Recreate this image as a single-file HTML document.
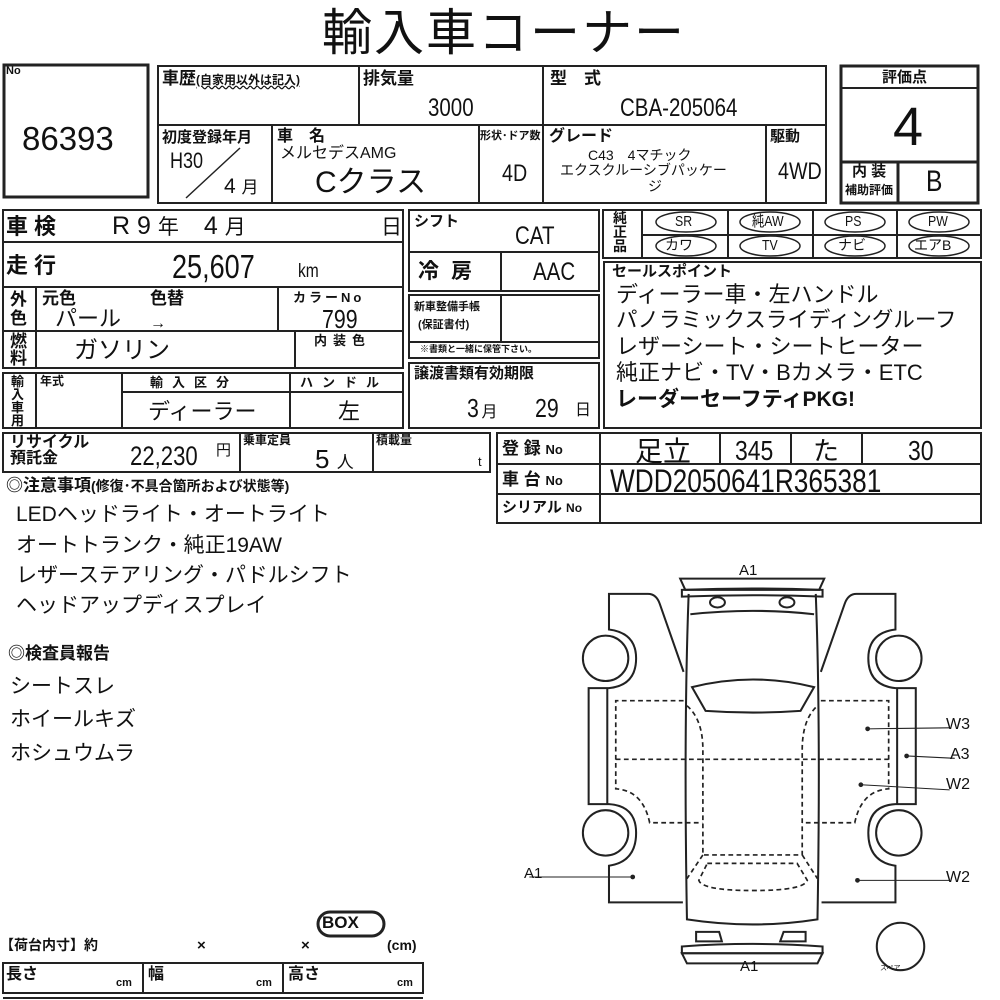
<!DOCTYPE html>
<html><head><meta charset="utf-8">
<style>
html,body{margin:0;padding:0;background:#fff;}
body{width:1000px;height:1000px;position:relative;overflow:hidden;font-family:"Liberation Sans","Noto Sans CJK JP",sans-serif;color:#111;}
.t{position:absolute;white-space:nowrap;line-height:1;}
.b{font-weight:bold;}
.n{display:inline-block;transform-origin:left top;transform:scaleX(0.82);}
svg{position:absolute;left:0;top:0;}
</style></head><body>
<svg width="1000" height="1000" viewBox="0 0 1000 1000" fill="none" stroke="#222" stroke-width="2">
<rect x="4" y="65" width="144" height="132" stroke-width="3"/>
<rect x="158" y="66" width="668" height="137"/>
<line x1="158" y1="125" x2="826" y2="125"/>
<line x1="359" y1="66" x2="359" y2="125"/>
<line x1="543" y1="66" x2="543" y2="203"/>
<line x1="272" y1="125" x2="272" y2="203"/>
<line x1="479" y1="125" x2="479" y2="203"/>
<line x1="766" y1="125" x2="766" y2="203"/>
<line x1="186" y1="198" x2="240" y2="148" stroke-width="1.5"/>
<rect x="841" y="66" width="137" height="137" stroke-width="3"/>
<line x1="841" y1="88" x2="978" y2="88"/>
<line x1="841" y1="162" x2="978" y2="162" stroke-width="3"/>
<line x1="898" y1="162" x2="898" y2="203" stroke-width="3"/>
<rect x="3" y="210" width="400" height="158"/>
<line x1="3" y1="242" x2="403" y2="242"/>
<line x1="3" y1="287" x2="403" y2="287"/>
<line x1="3" y1="331" x2="403" y2="331"/>
<line x1="36" y1="287" x2="36" y2="368"/>
<line x1="278" y1="287" x2="278" y2="331"/>
<line x1="295" y1="331" x2="295" y2="368"/>
<rect x="3" y="373" width="400" height="55"/>
<line x1="36" y1="373" x2="36" y2="428"/>
<line x1="122" y1="373" x2="122" y2="428"/>
<line x1="122" y1="392" x2="403" y2="392"/>
<line x1="290" y1="373" x2="290" y2="428"/>
<rect x="409" y="210" width="190" height="81"/>
<line x1="409" y1="252" x2="599" y2="252"/>
<line x1="501" y1="252" x2="501" y2="291"/>
<rect x="409" y="295" width="190" height="63"/>
<line x1="409" y1="342" x2="599" y2="342"/>
<line x1="501" y1="295" x2="501" y2="342"/>
<rect x="409" y="363" width="190" height="65"/>
<rect x="603" y="210" width="378" height="48"/>
<line x1="642" y1="235" x2="981" y2="235"/>
<line x1="642" y1="210" x2="642" y2="258"/>
<line x1="728" y1="210" x2="728" y2="258"/>
<line x1="813" y1="210" x2="813" y2="258"/>
<line x1="897" y1="210" x2="897" y2="258"/>
<g stroke-width="1.5">
<ellipse cx="686" cy="222" rx="30" ry="10"/><ellipse cx="770" cy="222" rx="30" ry="10"/>
<ellipse cx="855" cy="222" rx="30" ry="10"/><ellipse cx="939" cy="222" rx="30" ry="10"/>
<ellipse cx="686" cy="246" rx="30" ry="10"/><ellipse cx="770" cy="246" rx="30" ry="10"/>
<ellipse cx="855" cy="246" rx="30" ry="10"/><ellipse cx="939" cy="246" rx="30" ry="10"/>
</g>
<rect x="604" y="262" width="377" height="166"/>
<rect x="3" y="433" width="487" height="39"/>
<line x1="240" y1="433" x2="240" y2="472"/>
<line x1="373" y1="433" x2="373" y2="472"/>
<rect x="497" y="433" width="484" height="90"/>
<line x1="497" y1="464" x2="981" y2="464"/>
<line x1="497" y1="494" x2="981" y2="494"/>
<line x1="600" y1="433" x2="600" y2="523"/>
<line x1="720" y1="433" x2="720" y2="464"/>
<line x1="791" y1="433" x2="791" y2="464"/>
<line x1="862" y1="433" x2="862" y2="464"/>
<rect x="318" y="912" width="66" height="24" rx="12" stroke-width="3"/>
<rect x="3" y="963" width="420" height="30"/>
<line x1="143" y1="963" x2="143" y2="993"/>
<line x1="283" y1="963" x2="283" y2="993"/>
<line x1="3" y1="998" x2="423" y2="998"/>
<g transform="translate(570,560) scale(0.339)" stroke-width="6">
 <path d="M335,330 L265,130 Q255,100 230,100 L115,100 L115,205 Q195,215 195,290 Q195,370 115,378 L55,378 L55,720 L115,720 Q195,725 195,805 Q195,890 115,902 L115,1010 L333,1010"/>
 <circle cx="105" cy="290" r="67"/><circle cx="105" cy="805" r="67"/>
 <line x1="110" y1="378" x2="110" y2="720"/>
 <g transform="translate(1075,0) scale(-1,1)">
  <path d="M335,330 L265,130 Q255,100 230,100 L115,100 L115,205 Q195,215 195,290 Q195,370 115,378 L55,378 L55,720 L115,720 Q195,725 195,805 Q195,890 115,902 L115,1010 L333,1010"/>
  <circle cx="105" cy="290" r="67"/><circle cx="105" cy="805" r="67"/>
  <line x1="110" y1="378" x2="110" y2="720"/>
 </g>
 <path d="M350,100 Q335,500 345,1060 Q540,1090 730,1060 Q740,500 725,100"/>
 <path d="M325,55 L750,55 L735,88 L340,88 Z"/>
 <path d="M330,88 Q540,80 745,88 L745,108 Q540,100 330,108 Z"/>
 <ellipse cx="435" cy="125" rx="22" ry="15"/><ellipse cx="640" cy="125" rx="22" ry="15"/>
 <path d="M355,160 Q540,140 720,160"/>
 <path d="M360,375 Q540,330 720,375 L680,445 Q540,455 400,445 Z"/>
 <path d="M372,1097 L440,1097 L448,1125 L372,1125 Z"/><path d="M620,1125 L630,1097 L695,1097 L695,1125 Z"/>
 <path d="M330,1140 Q540,1125 745,1140 L745,1160 L330,1160 Z"/>
 <path d="M330,1160 L745,1160 L730,1190 L345,1190 Z"/>
 <g stroke-dasharray="14,10" stroke-width="5">
  <path d="M335,415 L135,415 L135,675 Q215,680 235,775 L390,775"/>
  <path d="M740,415 L940,415 L940,675 Q860,680 840,775 L685,775"/>
  <line x1="135" y1="588" x2="940" y2="588"/>
  <path d="M345,430 Q392,470 392,560 L392,870 L685,870 L685,560 Q685,470 730,430"/>
  <path d="M392,870 L345,940 M685,870 L730,940"/>
  <path d="M405,895 L670,895 L700,945 Q690,975 540,975 Q390,975 380,945 Z"/>
 </g>
 <g stroke-width="3">
  <line x1="878" y1="498" x2="1120" y2="495"/>
  <line x1="993" y1="578" x2="1135" y2="585"/>
  <line x1="858" y1="663" x2="1120" y2="678"/>
  <line x1="848" y1="945" x2="1120" y2="945"/>
  <line x1="-120" y1="935" x2="185" y2="935"/>
 </g>
 <g fill="#222" stroke="none">
  <circle cx="878" cy="498" r="7"/><circle cx="993" cy="578" r="7"/><circle cx="858" cy="663" r="7"/><circle cx="848" cy="945" r="7"/><circle cx="185" cy="935" r="7"/>
 </g>
 <circle cx="975" cy="1140" r="70"/>
</g>
</svg>

<div class="t" style="left:322px;top:8px;font-size:50px;letter-spacing:2px;">輸入車コーナー</div>
<div class="t b" style="left:6px;top:66px;font-size:11px;">No</div>
<div class="t" style="left:22px;top:122px;font-size:33px;">86393</div>

<div class="t b" style="left:162px;top:70px;font-size:17px;">車歴<span style="font-size:12px;text-decoration:underline wavy;">(自家用以外は記入)</span></div>
<div class="t b" style="left:363px;top:70px;font-size:17px;">排気量</div>
<div class="t" style="left:428px;top:96px;font-size:25px;"><span class="n">3000</span></div>
<div class="t b" style="left:550px;top:70px;font-size:17px;">型　式</div>
<div class="t" style="left:620px;top:96px;font-size:25px;"><span class="n">CBA-205064</span></div>
<div class="t b" style="left:162px;top:130px;font-size:15px;">初度登録年月</div>
<div class="t" style="left:170px;top:150px;font-size:22px;"><span class="n">H30</span></div>
<div class="t" style="left:224px;top:176px;font-size:21px;">4 <span style="font-size:17px;">月</span></div>
<div class="t b" style="left:277px;top:129px;font-size:16px;">車　名</div>
<div class="t" style="left:280px;top:146px;font-size:16px;">メルセデスAMG</div>
<div class="t" style="left:315px;top:168px;font-size:30px;">Cクラス</div>
<div class="t b" style="left:480px;top:131px;font-size:11px;">形状･ドア数</div>
<div class="t" style="left:502px;top:162px;font-size:24px;"><span class="n">4D</span></div>
<div class="t b" style="left:549px;top:129px;font-size:16px;">グレード</div>
<div class="t" style="left:588px;top:148px;font-size:14px;">C43　4マチック</div>
<div class="t" style="left:560px;top:163px;font-size:14px;">エクスクルーシブパッケー</div>
<div class="t" style="left:648px;top:179px;font-size:14px;">ジ</div>
<div class="t b" style="left:770px;top:129px;font-size:15px;">駆動</div>
<div class="t" style="left:778px;top:160px;font-size:24px;"><span class="n">4WD</span></div>
<div class="t b" style="left:882px;top:70px;font-size:15px;">評価点</div>
<div class="t" style="left:893px;top:100px;font-size:54px;">4</div>
<div class="t b" style="left:852px;top:164px;font-size:15px;">内 装</div>
<div class="t b" style="left:845px;top:184px;font-size:12px;">補助評価</div>
<div class="t" style="left:926px;top:167px;font-size:30px;"><span class="n">B</span></div>

<div class="t b" style="left:6px;top:216px;font-size:22px;letter-spacing:6px;">車検</div>
<div class="t" style="left:112px;top:214px;font-size:25px;">R 9 <span style="font-size:21px;">年</span>　4 <span style="font-size:21px;">月</span></div>
<div class="t" style="left:381px;top:217px;font-size:21px;">日</div>
<div class="t b" style="left:6px;top:255px;font-size:22px;letter-spacing:6px;">走行</div>
<div class="t" style="left:172px;top:250px;font-size:33px;"><span class="n">25,607</span></div>
<div class="t" style="left:298px;top:262px;font-size:19px;"><span class="n">km</span></div>
<div class="t b" style="left:10px;top:290px;font-size:17px;line-height:19px;">外<br>色</div>
<div class="t b" style="left:42px;top:290px;font-size:17px;">元色</div>
<div class="t b" style="left:150px;top:290px;font-size:17px;">色替</div>
<div class="t" style="left:55px;top:308px;font-size:22px;">パール</div>
<div class="t" style="left:150px;top:316px;font-size:16px;">→</div>
<div class="t b" style="left:293px;top:291px;font-size:13px;letter-spacing:3px;">カラーNo</div>
<div class="t" style="left:322px;top:306px;font-size:26px;"><span class="n">799</span></div>
<div class="t b" style="left:10px;top:333px;font-size:17px;line-height:17px;">燃<br>料</div>
<div class="t" style="left:74px;top:339px;font-size:24px;">ガソリン</div>
<div class="t b" style="left:314px;top:334px;font-size:13px;letter-spacing:6px;">内装色</div>
<div class="t b" style="left:11px;top:375px;font-size:13px;line-height:13px;">輸<br>入<br>車<br>用</div>
<div class="t b" style="left:40px;top:375px;font-size:12px;">年式</div>
<div class="t b" style="left:150px;top:376px;font-size:13px;letter-spacing:9px;">輸入区分</div>
<div class="t b" style="left:300px;top:376px;font-size:13px;letter-spacing:9px;">ハンドル</div>
<div class="t" style="left:148px;top:401px;font-size:22px;">ディーラー</div>
<div class="t" style="left:338px;top:401px;font-size:22px;">左</div>

<div class="t b" style="left:414px;top:214px;font-size:15px;">シフト</div>
<div class="t" style="left:515px;top:224px;font-size:25px;"><span class="n">CAT</span></div>
<div class="t b" style="left:418px;top:261px;font-size:21px;letter-spacing:12px;">冷房</div>
<div class="t" style="left:533px;top:260px;font-size:25px;"><span class="n">AAC</span></div>
<div class="t b" style="left:414px;top:302px;font-size:11px;">新車整備手帳</div>
<div class="t b" style="left:418px;top:320px;font-size:11px;">(保証書付)</div>
<div class="t b" style="left:420px;top:345px;font-size:9px;">※書類と一緒に保管下さい。</div>
<div class="t b" style="left:414px;top:366px;font-size:15px;">譲渡書類有効期限</div>
<div class="t" style="left:467px;top:395px;font-size:26px;"><span class="n">3</span><span style="font-size:16px;">月</span></div>
<div class="t" style="left:535px;top:395px;font-size:26px;"><span class="n">29</span></div>
<div class="t" style="left:575px;top:403px;font-size:16px;">日</div>

<div class="t b" style="left:613px;top:211px;font-size:14px;line-height:14px;">純<br>正<br>品</div>
<div class="t" style="left:675px;top:214px;font-size:15px;"><span class="n">SR</span></div>
<div class="t" style="left:752px;top:214px;font-size:15px;"><span class="n">純AW</span></div>
<div class="t" style="left:845px;top:214px;font-size:15px;"><span class="n">PS</span></div>
<div class="t" style="left:928px;top:214px;font-size:15px;"><span class="n">PW</span></div>
<div class="t" style="left:665px;top:238px;font-size:14px;">カワ</div>
<div class="t" style="left:762px;top:238px;font-size:15px;"><span class="n">TV</span></div>
<div class="t" style="left:838px;top:238px;font-size:14px;">ナビ</div>
<div class="t" style="left:914px;top:238px;font-size:14px;">エアB</div>

<div class="t b" style="left:612px;top:264px;font-size:15px;">セールスポイント</div>
<div class="t" style="left:616px;top:284px;font-size:22px;">ディーラー車・左ハンドル</div>
<div class="t" style="left:616px;top:310px;font-size:21.5px;">パノラミックスライディングルーフ</div>
<div class="t" style="left:616px;top:336px;font-size:22px;">レザーシート・シートヒーター</div>
<div class="t" style="left:616px;top:362px;font-size:22px;">純正ナビ・TV・Bカメラ・ETC</div>
<div class="t b" style="left:616px;top:389px;font-size:21px;">レーダーセーフティPKG!</div>

<div class="t b" style="left:10px;top:435px;font-size:16px;line-height:16px;">リサイクル<br>預託金</div>
<div class="t" style="left:130px;top:443px;font-size:27px;"><span class="n">22,230</span></div>
<div class="t" style="left:216px;top:443px;font-size:15px;">円</div>
<div class="t b" style="left:243px;top:434px;font-size:12px;">乗車定員</div>
<div class="t" style="left:315px;top:446px;font-size:26px;">5 <span style="font-size:17px;">人</span></div>
<div class="t b" style="left:376px;top:434px;font-size:12px;">積載量</div>
<div class="t" style="left:478px;top:455px;font-size:13px;">t</div>
<div class="t b" style="left:502px;top:440px;font-size:17px;">登 録 <span style="font-size:13px;">No</span></div>
<div class="t b" style="left:502px;top:471px;font-size:17px;">車 台 <span style="font-size:13px;">No</span></div>
<div class="t b" style="left:502px;top:500px;font-size:15px;">シリアル <span style="font-size:12px;">No</span></div>
<div class="t" style="left:635px;top:438px;font-size:28px;">足立</div>
<div class="t" style="left:735px;top:437px;font-size:28px;"><span class="n">345</span></div>
<div class="t" style="left:813px;top:438px;font-size:26px;">た</div>
<div class="t" style="left:908px;top:437px;font-size:28px;"><span class="n">30</span></div>
<div class="t" style="left:610px;top:465px;font-size:32px;"><span class="n">WDD2050641R365381</span></div>

<div class="t b" style="left:6px;top:477px;font-size:17px;">◎注意事項<span style="font-size:14px;">(修復･不具合箇所および状態等)</span></div>
<div class="t" style="left:16px;top:504px;font-size:21px;">LEDヘッドライト・オートライト</div>
<div class="t" style="left:16px;top:535px;font-size:21px;">オートトランク・純正19AW</div>
<div class="t" style="left:16px;top:565px;font-size:21px;">レザーステアリング・パドルシフト</div>
<div class="t" style="left:16px;top:595px;font-size:21px;">ヘッドアップディスプレイ</div>
<div class="t b" style="left:8px;top:645px;font-size:17px;">◎検査員報告</div>
<div class="t" style="left:10px;top:676px;font-size:21px;">シートスレ</div>
<div class="t" style="left:10px;top:709px;font-size:21px;">ホイールキズ</div>
<div class="t" style="left:10px;top:743px;font-size:21px;">ホシュウムラ</div>

<div class="t" style="left:739px;top:563px;font-size:15px;">A1</div>
<div class="t" style="left:740px;top:959px;font-size:15px;">A1</div>
<div class="t" style="left:524px;top:866px;font-size:15px;">A1</div>
<div class="t" style="left:946px;top:717px;font-size:16px;">W3</div>
<div class="t" style="left:950px;top:747px;font-size:16px;">A3</div>
<div class="t" style="left:946px;top:777px;font-size:16px;">W2</div>
<div class="t" style="left:946px;top:870px;font-size:16px;">W2</div>
<div class="t" style="left:880px;top:965px;font-size:7px;">スペア</div>

<div class="t b" style="left:322px;top:914px;font-size:17px;">BOX</div>
<div class="t b" style="left:0px;top:938px;font-size:14px;">【荷台内寸】約</div>
<div class="t b" style="left:197px;top:938px;font-size:15px;">×</div>
<div class="t b" style="left:301px;top:938px;font-size:15px;">×</div>
<div class="t b" style="left:387px;top:938px;font-size:14px;">(cm)</div>
<div class="t b" style="left:6px;top:967px;font-size:16px;">長さ</div>
<div class="t b" style="left:116px;top:978px;font-size:11px;">cm</div>
<div class="t b" style="left:148px;top:967px;font-size:16px;">幅</div>
<div class="t b" style="left:256px;top:978px;font-size:11px;">cm</div>
<div class="t b" style="left:288px;top:967px;font-size:16px;">高さ</div>
<div class="t b" style="left:397px;top:978px;font-size:11px;">cm</div>
</body></html>
